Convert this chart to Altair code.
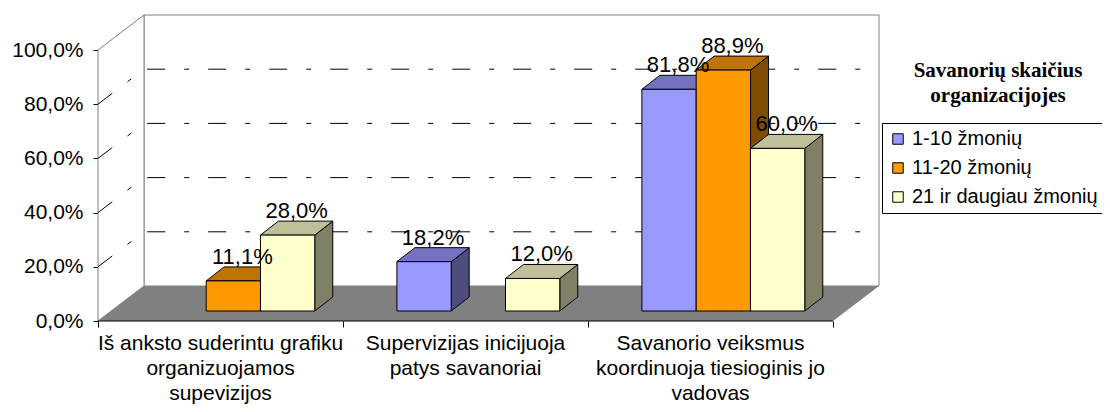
import altair as alt
import pandas as pd

# ---------------- data ----------------
categories = [
    "Iš anksto suderintu grafiku\norganizuojamos\nsupevizijos",
    "Supervizijas inicijuoja\npatys savanoriai",
    "Savanorio veiksmus\nkoordinuoja tiesioginis jo\nvadovas",
]
series = ["1-10 žmonių", "11-20 žmonių", "21 ir daugiau žmonių"]
v_1_10 = [None, 18.2, 81.8]
v_11_20 = [11.1, None, 88.9]
v_21_plus = [28.0, 12.0, 60.0]
y_ticks = [0, 20, 40, 60, 80, 100]
grid_levels = [20, 40, 60, 80]
legend_title = "Savanorių skaičius\norganizacijojes"

front_colors = ["#9999FF", "#FF9900", "#FFFFCC"]
top_colors = ["#7373BF", "#BF7300", "#BFBF99"]
side_colors = ["#4D4D80", "#804D00", "#808066"]

values = [v_1_10, v_11_20, v_21_plus]

# ---------------- 3D projection geometry ----------------
PX_CAT = 245.0          # px per category
PX_PCT = 2.71           # px per percent
D = 46 / PX_CAT         # wall depth (x units)
DY = 35 / PX_PCT        # wall depth (y units)
BAR_W = 0.2216
BAR_X0 = 0.22
BAR_Y0 = 10 / PX_PCT
BD = 18 / PX_CAT
BDY = 14 / PX_PCT
W = round((3 + D) * PX_CAT)
H = round((100 + DY) * PX_PCT)
N = len(categories)


def fmt(v):
    return f"{v:.1f}".replace(".", ",") + "%"


front, top, side, lab = [], [], [], []
k = 0
for i in range(N):
    for j, s in enumerate(series):
        v = values[j][i]
        if v is None:
            continue
        x0 = i + BAR_X0 + j * BAR_W
        x1 = x0 + BAR_W
        yt = BAR_Y0 + v
        front.append({"x": x0, "x2": x1, "y": BAR_Y0, "y2": yt, "series": s})
        top.append({"id": k, "y": yt, "x": x0, "x2": x1, "c": top_colors[j]})
        top.append({"id": k, "y": yt + BDY, "x": x0 + BD, "x2": x1 + BD, "c": top_colors[j]})
        side.append({"id": k, "x": x1, "y": BAR_Y0, "y2": yt, "c": side_colors[j]})
        side.append({"id": k, "x": x1 + BD, "y": BAR_Y0 + BDY, "y2": yt + BDY, "c": side_colors[j]})
        lab.append({"x": (x0 + x1) / 2 + BD / 2, "y": yt + BDY, "t": fmt(v)})
        k += 1

front_df = pd.DataFrame(front)
top_df = pd.DataFrame(top)
side_df = pd.DataFrame(side)
lab_df = pd.DataFrame(lab)

back_df = pd.DataFrame([{"x": D, "x2": N + D, "y": DY, "y2": 100 + DY}])
left_df = pd.DataFrame([
    {"x": 0, "y": 0, "y2": 100},
    {"x": D, "y": DY, "y2": 100 + DY},
])
floor_df = pd.DataFrame([
    {"y": 0, "x": 0, "x2": N},
    {"y": DY, "x": D, "x2": N + D},
])
grid_rows = []
for g in grid_levels:
    grid_rows += [
        {"lvl": g, "o": 0, "x": 0, "y": g},
        {"lvl": g, "o": 1, "x": D, "y": g + DY},
        {"lvl": g, "o": 2, "x": N + D, "y": g + DY},
    ]
grid_df = pd.DataFrame(grid_rows)
xaxis_df = pd.DataFrame([{"x": 0, "x2": N, "y": 0}])
cat_df = pd.DataFrame([{"x": i + 0.5, "y": 0, "t": c} for i, c in enumerate(categories)])
title_df = pd.DataFrame([{"t": legend_title}])

xs = alt.Scale(domain=[0, N + D], nice=False, zero=False)
ys = alt.Scale(domain=[0, 100 + DY], nice=False, zero=False)
FONT = "Liberation Sans"

xa = alt.Axis(values=list(range(N + 1)), labels=False, domain=False, grid=False,
              ticks=True, tickSize=6, tickColor="black", title=None)
ya = alt.Axis(values=y_ticks, domain=False, grid=False, tickSize=5, tickColor="black",
              labelExpr="replace(format(datum.value, '.1f'), '.', ',') + '%'",
              labelFont=FONT, labelFontSize=21, labelColor="black",
              labelPadding=10, title=None)


def X(f="x"):
    return alt.X(f"{f}:Q", scale=xs, axis=xa)


def Y(f="y"):
    return alt.Y(f"{f}:Q", scale=ys, axis=ya)


back = alt.Chart(back_df).mark_rect(fill="white", stroke="#808080", strokeWidth=1).encode(
    x=X(), x2="x2:Q", y=Y(), y2="y2:Q",
)

left = alt.Chart(left_df).mark_area(fill="white", stroke="#808080", strokeWidth=1,
                                    orient="vertical").encode(
    x=X(), y=Y(), y2="y2:Q",
)

floor = alt.Chart(floor_df).mark_area(fill="#808080", orient="horizontal").encode(
    y=Y(), x=X(), x2="x2:Q",
)

grid = alt.Chart(grid_df).mark_line(color="black", strokeWidth=1,
                                    strokeDash=[18, 19, 5, 19]).encode(
    x=X(), y=Y(), detail="lvl:N", order="o:Q",
)

xaxis = alt.Chart(xaxis_df).mark_rule(color="black", strokeWidth=1).encode(
    x=X(), x2="x2:Q", y=Y(),
)

sides = alt.Chart(side_df).mark_area(stroke="black", strokeWidth=1, orient="vertical").encode(
    x=X(), y=Y(), y2="y2:Q", detail="id:N",
    fill=alt.Fill("c:N", scale=None),
)

tops = alt.Chart(top_df).mark_area(stroke="black", strokeWidth=1, orient="horizontal").encode(
    y=Y(), x=X(), x2="x2:Q", detail="id:N",
    fill=alt.Fill("c:N", scale=None),
)

fronts = alt.Chart(front_df).mark_rect(stroke="black", strokeWidth=1).encode(
    x=X(), x2="x2:Q", y=Y(), y2="y2:Q",
    fill=alt.Fill("series:N", scale=alt.Scale(domain=series, range=front_colors),
                  legend=alt.Legend(title=None, orient="none", legendX=784, legendY=108,
                                    symbolType="square", symbolSize=110,
                                    symbolStrokeColor="black", symbolStrokeWidth=1,
                                    labelFont=FONT, labelFontSize=20, labelColor="black",
                                    labelLimit=400, labelOffset=4, rowPadding=9, padding=6,
                                    strokeColor="black", fillColor="white")),
)

labels = alt.Chart(lab_df).mark_text(font=FONT, fontSize=22, color="black", align="center",
                                     baseline="alphabetic", dy=-3).encode(
    x=X(), y=Y(), text="t:N",
)

cats = alt.Chart(cat_df).mark_text(font=FONT, fontSize=21, color="black", align="center",
                                   baseline="top", dy=12, lineBreak="\n", lineHeight=25).encode(
    x=X(), y=Y(), text="t:N",
)

ltitle = alt.Chart(title_df).mark_text(font="Liberation Serif", fontSize=21, fontWeight="bold",
                                       color="black", align="center", baseline="alphabetic",
                                       lineBreak="\n", lineHeight=25).encode(
    x=alt.value(900),
    y=alt.value(62),
    text="t:N",
)

chart = alt.layer(back, left, floor, grid, xaxis, sides, tops, fronts, labels, cats, ltitle).properties(
    width=W,
    height=H,
    autosize=alt.AutoSizeParams(type="none"),
    padding={"left": 90, "top": 7, "right": 1102 - 8 - 90 - W, "bottom": 83},
    background="white",
).configure_view(stroke=None)

chart.save("out.html", embed_options={"renderer": "svg", "actions": False})
